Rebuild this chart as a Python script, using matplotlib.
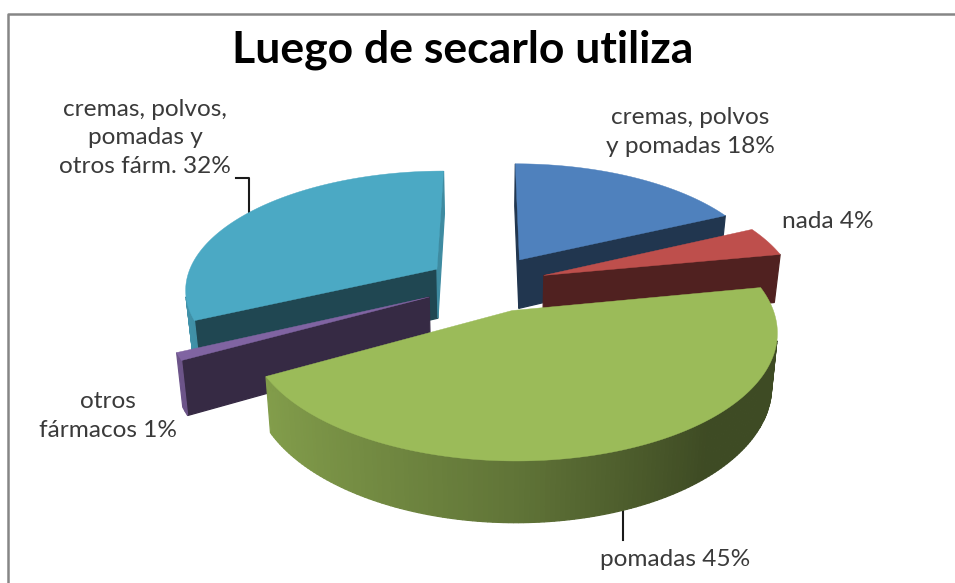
import numpy as np
import matplotlib
matplotlib.use("Agg")
import matplotlib.pyplot as plt

title = "Luego de secarlo utiliza"
labels = [
    "cremas, polvos\ny pomadas 18%",
    "nada 4%",
    "pomadas 45%",
    "otros\nfármacos 1%",
    "cremas, polvos,\npomadas y\notros fárm. 32%",
]
values = [18, 4, 45, 1, 32]
colors = ["#4F81BD", "#BE4F4C", "#9BBB59", "#8064A2", "#4BA9C4"]
label_xy = [(690, 132), (828, 221), (675, 559), (108, 416), (145, 138)]

# fitted projection of the tilted pie onto pixel coordinates
CX, CY = 487, 284
RX, RY = 252, 117.6
PERSP = 0.155
EXPLODE = 0.24
DEPTH = 50
LOW_SHRINK = 0.98
# small per slice nudges in pixels, the fit is not exact
NUDGE = [(1, -1), (0, 0), (4, -1), (-3, 0), (0, 0)]


def project(u, v, low=False, nudge=(0, 0)):
    w = 1 + PERSP * v
    x = RX * u / w
    y = CY - RY * v / w
    if low:
        x = x * LOW_SHRINK
        y = y + DEPTH / w
    return CX + x + nudge[0], y + nudge[1]


def shade(color, f):
    rgb = np.array(matplotlib.colors.to_rgb(color))
    return tuple(rgb * f)


def area(xs, ys):
    return 0.5 * np.sum(xs * np.roll(ys, -1) - np.roll(xs, -1) * ys)


def arc_shade(theta):
    s = np.sin(theta)
    if s > 0:
        return max(0.40, 0.62 - 0.34 * s)
    return 0.62 - 0.25 * s


def draw_quad(ax, p0, p1, z, color, nudge):
    # wall between two points of the rim, skipped when it faces away
    x0, y0 = project(*p0, nudge=nudge)
    x1, y1 = project(*p1, nudge=nudge)
    x2, y2 = project(*p1, low=True, nudge=nudge)
    x3, y3 = project(*p0, low=True, nudge=nudge)
    xs = np.array([x0, x1, x2, x3])
    ys = np.array([y0, y1, y2, y3])
    if area(xs, ys) < 0:
        ax.fill(xs, ys, color=color, lw=0.9, zorder=z)


fig = plt.figure(figsize=(9.55, 5.83), dpi=100)
ax = fig.add_axes([0, 0, 1, 1])
ax.set_xlim(0, 955)
ax.set_ylim(583, 0)
ax.axis("off")

# chart frame
ax.plot([8, 8, 955], [583, 14, 14], color="#868686", lw=1.8)

fractions = np.array(values) / sum(values)
edges = np.concatenate([[0], np.cumsum(fractions)]) * 2 * np.pi

# back to front
order = [4, 0, 1, 3, 2]
for rank, i in enumerate(order):
    base = 10 + rank * 10
    t0, t1 = edges[i], edges[i + 1]
    mid = (t0 + t1) / 2
    ou, ov = EXPLODE * np.sin(mid), EXPLODE * np.cos(mid)
    thetas = np.linspace(t0, t1, max(int((t1 - t0) * 60), 3))
    us = ou + np.sin(thetas)
    vs = ov + np.cos(thetas)

    # radial faces; walking clockwise round the slice keeps the winding fixed
    start = (ou + np.sin(t0), ov + np.cos(t0))
    end = (ou + np.sin(t1), ov + np.cos(t1))
    apex = (ou, ov)
    draw_quad(ax, apex, start, base, shade(colors[i], 0.42), NUDGE[i])
    end_f = 0.82 if np.sin(t1 + np.pi / 2) > 0.9 else 0.42
    draw_quad(ax, end, apex, base, shade(colors[i], end_f), NUDGE[i])

    # rim, small steps give the shading
    for k in range(len(thetas) - 1):
        c = shade(colors[i], arc_shade((thetas[k] + thetas[k + 1]) / 2))
        draw_quad(ax, (us[k], vs[k]), (us[k + 1], vs[k + 1]), base + 1, c, NUDGE[i])

    # top of the slice
    tx, ty = project(np.append(us, ou), np.append(vs, ov), nudge=NUDGE[i])
    ax.fill(tx, ty, color=colors[i], lw=0.3, zorder=base + 2)

# leader lines
ax.plot([236, 249, 249], [178, 178, 212], color="#1a1a1a", lw=1.5, zorder=5)
ax.plot([623, 623], [510, 540], color="#1a1a1a", lw=1.5, zorder=5)

ax.text(463, 50, title, fontsize=32, fontweight="bold", family="Lato",
        ha="center", va="center", color="black", zorder=90)
for lab, (x, y) in zip(labels, label_xy):
    ax.text(x, y, lab, fontsize=17.6, family="Lato", ha="center", va="center",
            color="#3a3a3a", linespacing=1.47, zorder=90)

fig.savefig("out.png", dpi=100)
